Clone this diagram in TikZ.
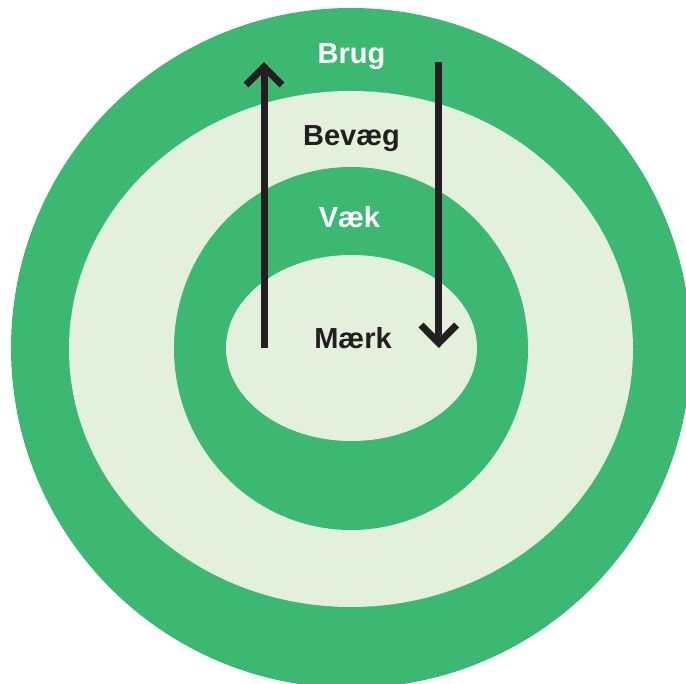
\documentclass[tikz,border=0pt]{standalone}
\usepackage{fontspec}
\setmainfont{Liberation Sans}
\definecolor{ringgreen}{RGB}{61,184,115}
\definecolor{ringlight}{RGB}{227,240,220}
\definecolor{ink}{RGB}{35,31,32}
\tikzset{
  lbl/.style={anchor=base, inner sep=0pt, font=\fontsize{29}{29}\selectfont\bfseries},
  shaft/.style={draw=ink, line width=7pt, line cap=butt},
  barb/.style={draw=ink, line width=7pt, line cap=butt, line join=miter}
}
\begin{document}
\begin{tikzpicture}[x=1pt,y=-1pt]
\useasboundingbox (0,0) rectangle (686,684);
\clip (0,0) rectangle (686,684);
% rings
\fill[ringgreen] (351,348) circle[radius=340pt];
\fill[ringlight] (351,349) ellipse[x radius=282pt, y radius=258pt];
\fill[ringgreen] (351,348.5) ellipse[x radius=177pt, y radius=181.5pt];
\fill[ringlight] (351.5,348) ellipse[x radius=125.5pt, y radius=93pt];
% labels
\node[lbl, text=white] (brug) at (351.5,64) {Brug};
\node[lbl, text=ink] (bevaeg) at (351.5,145.7) {Bevæg};
\node[lbl, text=white] (vaek) at (349.5,227.5) {Væk};
\node[lbl, text=ink] (maerk) at (353,348.7) {Mærk};
% up arrow
\coordinate (upbot) at (264,348);
\coordinate (uptip) at (264,67);
\coordinate (upL) at (246,85);
\coordinate (upR) at (282,85);
\path[shaft] (upbot) -- (uptip);
\path[barb] (upL) -- (uptip) -- (upR);
% down arrow
\coordinate (dntop) at (438.8,62);
\coordinate (dntip) at (438.8,343);
\coordinate (dnL) at (421,325);
\coordinate (dnR) at (456.6,325);
\path[shaft] (dntop) -- (dntip);
\path[barb] (dnL) -- (dntip) -- (dnR);
\end{tikzpicture}
\end{document}
